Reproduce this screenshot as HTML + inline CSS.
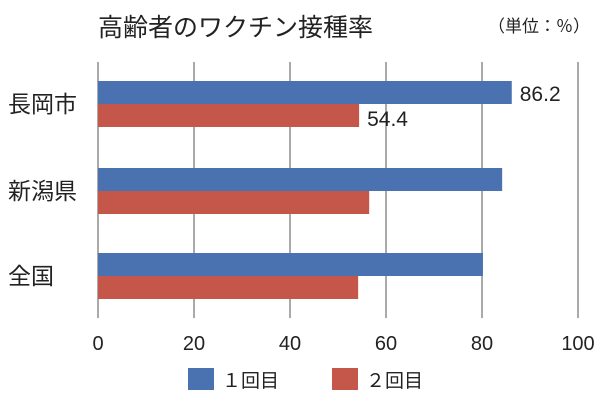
<!DOCTYPE html>
<html><head><meta charset="utf-8"><style>
body{margin:0;background:#fff;}
svg text{font-family:"Liberation Sans","Noto Sans CJK JP",sans-serif;fill:#222;}
</style></head><body>
<svg id="chart" width="607" height="401" viewBox="0 0 607 401">
<text x="98" y="36" font-size="25">高齢者のワクチン接種率</text>
<text x="488" y="32" font-size="17">（単位：％）</text>
<g id="grid"></g><g id="bars"></g><g id="labels"></g>
<rect x="188" y="368" width="26" height="22" fill="#4a72b0"/>
<text x="222" y="387" font-size="19">１回目</text>
<rect x="332" y="368" width="26" height="22" fill="#c5574a"/>
<text x="366" y="387" font-size="19">２回目</text>
</svg>
<script>
const categories=["長岡市","新潟県","全国"];
const dose1=[86.2,84.2,80.2];
const dose2=[54.4,56.5,54.2];
const ticks=[0,20,40,60,80,100];
const printed=["86.2","54.4"];
const ns="http://www.w3.org/2000/svg";
const x=v=>98+v*4.8;
const groupTop=[81,168,253];
function mk(t,a,p){const e=document.createElementNS(ns,t);for(const k in a)e.setAttribute(k,a[k]);document.getElementById(p).appendChild(e);return e;}
ticks.forEach(t=>{
 const l=mk("line",{x1:x(t),x2:x(t),y1:62,y2:318,stroke:"#555","stroke-width":1},"grid");
 
 
 const tx=mk("text",{x:x(t),y:350,"font-size":20,"text-anchor":"middle"},"labels");
 tx.textContent=t;
 
 
});
categories.forEach((c,i)=>{
 const y=groupTop[i];
 const b1=mk("rect",{x:x(0),y:y,width:x(dose1[i])-x(0),height:23,fill:"#4a72b0"},"bars");
 
 
 const b2=mk("rect",{x:x(0),y:y+23,width:x(dose2[i])-x(0),height:23,fill:"#c5574a"},"bars");
 
 
 const ct=mk("text",{x:8,y:y+31,"font-size":23},"labels");
 ct.textContent=c;
 
 
 if(i===0){
  const v1=mk("text",{x:x(dose1[i])+8,y:y+20,"font-size":21},"labels");
  v1.textContent=printed[0];
  
  
  const v2=mk("text",{x:x(dose2[i])+8,y:y+45,"font-size":21},"labels");
  v2.textContent=printed[1];
  
  
 }
});
</script>
</body></html>
